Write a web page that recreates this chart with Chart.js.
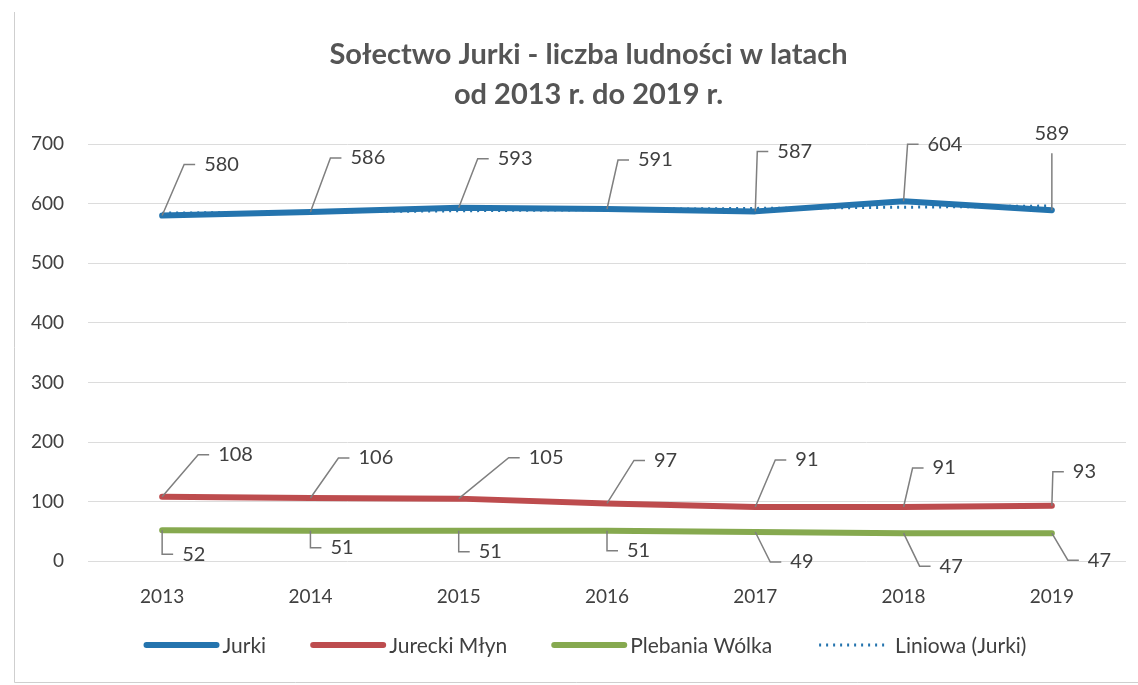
<!DOCTYPE html>
<html>
<head>
<meta charset="utf-8">
<script src="https://cdn.jsdelivr.net/npm/chart.js@4"></script>
<style>
  html, body { margin: 0; padding: 0; background: #fff; }
  #wrap { position: relative; width: 1138px; height: 685px; }
</style>
</head>
<body>
<div id="wrap"><canvas id="popChart"></canvas></div>
<script>
const years       = ['2013', '2014', '2015', '2016', '2017', '2018', '2019'];
const jurki       = [580, 586, 593, 591, 587, 604, 589];
const jureckiMlyn = [108, 106, 105, 97, 91, 91, 93];
const plebania    = [52, 51, 51, 51, 49, 47, 47];
const jurkiTrend  = [584, 586, 588, 590, 592, 594, 596];
const yTicks      = [0, 100, 200, 300, 400, 500, 600, 700];

const FONT = 'Lato, "Open Sans", sans-serif';
const TEXT = '#404040';

// leader line ends (dx, dy from the point), as Excel placed them
const leaders = {
    0: [[22,-51],[20,-54],[19,-49],[11,-49],[2,-60],[4,-57],[0,-57,'top']],
    1: [[36,-42],[28,-40],[50,-41],[27,-43],[20,-47],[9,-39],[1,-34]],
    2: [[0,24],[0,17],[0,21],[0,20],[15,30],[16,33],[16,27]]
};

const leaderLabels = {
    id: 'leaderLabels',
    afterDatasetsDraw(chart) {
        const ctx = chart.ctx;
        ctx.save();
        ctx.font = '20px ' + FONT;
        ctx.fillStyle = TEXT;
        ctx.strokeStyle = '#7f7f7f';
        ctx.lineWidth = 1.5;
        ctx.textBaseline = 'middle';
        Object.keys(leaders).forEach(di => {
            const meta = chart.getDatasetMeta(+di);
            const vals = chart.data.datasets[di].data;
            meta.data.forEach((pt, i) => {
                const [dx, dy, mode] = leaders[di][i];
                const ex = pt.x + dx, ey = pt.y + dy;
                ctx.beginPath();
                ctx.moveTo(pt.x, pt.y);
                ctx.lineTo(ex, ey);
                if (mode === 'top') {
                    ctx.stroke();
                    ctx.textAlign = 'center';
                    ctx.fillText(vals[i], ex, ey - 20);
                } else {
                    ctx.lineTo(ex + 11, ey);
                    ctx.stroke();
                    ctx.textAlign = 'left';
                    ctx.fillText(vals[i], ex + 20, ey);
                }
            });
        });
        ctx.restore();
    }
};

// Excel-style legend: long rounded strokes, dotted one for the trend
const bottomLegend = {
    id: 'bottomLegend',
    afterDraw(chart) {
        const ctx = chart.ctx;
        const y = 645, lineLen = 70, cap = 3, gap = 3, space = 44;
        ctx.save();
        ctx.font = '21px ' + FONT;
        ctx.textBaseline = 'middle';
        ctx.textAlign = 'left';
        const sets = chart.data.datasets;
        const widths = sets.map(ds => cap * 2 + lineLen + gap + ctx.measureText(ds.label).width);
        const total = widths.reduce((a, b) => a + b, 0) + space * (sets.length - 1);
        let x = 585 - total / 2;
        sets.forEach((ds, i) => {
            ctx.beginPath();
            ctx.strokeStyle = ds.borderColor;
            ctx.lineWidth = ds.borderWidth;
            ctx.lineCap = ds.borderDash ? 'butt' : 'round';
            ctx.setLineDash(ds.borderDash || []);
            ctx.moveTo(x + cap, y);
            ctx.lineTo(x + cap + lineLen, y);
            ctx.stroke();
            ctx.setLineDash([]);
            ctx.fillStyle = TEXT;
            ctx.fillText(ds.label, x + cap * 2 + lineLen + gap, y + 1);
            x += widths[i] + space;
        });
        ctx.restore();
    }
};

const frame = {
    id: 'frame',
    beforeDraw(chart) {
        const ctx = chart.ctx;
        ctx.save();
        ctx.strokeStyle = '#cfcfcf';
        ctx.lineWidth = 1;
        ctx.beginPath();
        ctx.moveTo(14.5, 12);
        ctx.lineTo(14.5, 682.5);
        ctx.lineTo(1138, 682.5);
        ctx.stroke();
        ctx.restore();
    },
    afterLayout(chart) {
        // title in the original sits a bit right of the canvas middle
        if (chart.titleBlock) chart.titleBlock.left += 20;
    }
};

new Chart(document.getElementById('popChart'), {
    type: 'line',
    data: {
        labels: years,
        datasets: [
            { label: 'Jurki', data: jurki, borderColor: '#2474ae', backgroundColor: '#2474ae', borderWidth: 6, borderCapStyle: 'round', borderJoinStyle: 'round', pointRadius: 0 },
            { label: 'Jurecki Młyn', data: jureckiMlyn, borderColor: '#bd4c4e', backgroundColor: '#bd4c4e', borderWidth: 6, borderCapStyle: 'round', borderJoinStyle: 'round', pointRadius: 0 },
            { label: 'Plebania Wólka', data: plebania, borderColor: '#86a94f', backgroundColor: '#86a94f', borderWidth: 6, borderCapStyle: 'round', borderJoinStyle: 'round', pointRadius: 0 },
            { label: 'Liniowa (Jurki)', data: jurkiTrend, borderColor: '#2474ae', backgroundColor: '#2474ae', borderWidth: 3, borderDash: [2, 5], pointRadius: 0 }
        ]
    },
    options: {
        responsive: true,
        maintainAspectRatio: false,
        animation: false,
        layout: { padding: { left: 31, right: 12, top: 0, bottom: 53 } },
        plugins: {
            title: {
                display: true,
                text: ['Sołectwo Jurki - liczba ludności w latach', 'od 2013 r. do 2019 r.'],
                color: '#555555',
                font: { family: FONT, size: 29, weight: 'bold', lineHeight: 1.38 },
                padding: { top: 35, bottom: 29 }
            },
            legend: { display: false },
            tooltip: { enabled: false }
        },
        scales: {
            x: {
                offset: true,
                grid: { display: false, drawTicks: false },
                border: { display: false },
                ticks: { color: TEXT, padding: 24, font: { family: FONT, size: 19 } }
            },
            y: {
                min: 0,
                max: 700,
                afterBuildTicks: axis => { axis.ticks = yTicks.map(v => ({ value: v })); },
                afterFit: axis => { axis.width = 57; },
                grid: { color: '#dcdcdc', drawTicks: false },
                border: { display: false },
                ticks: { color: TEXT, padding: 24, font: { family: FONT, size: 19 } }
            }
        }
    },
    plugins: [frame, leaderLabels, bottomLegend]
});
</script>
</body>
</html>
